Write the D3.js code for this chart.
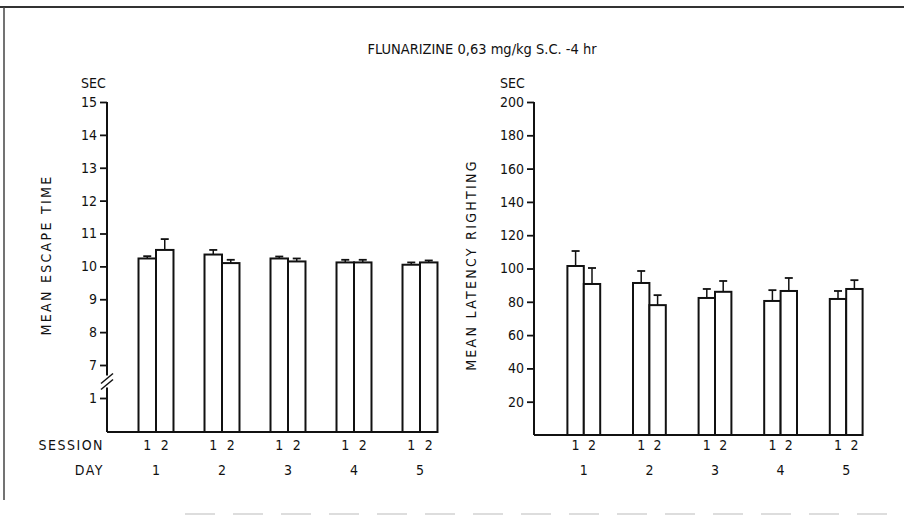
<!DOCTYPE html>
<html>
<head>
<meta charset="utf-8">
<script src="https://cdn.jsdelivr.net/npm/d3@7"></script>
<style>
  body { margin: 0; background: #fff; }
  svg text { font-family: "DejaVu Sans Condensed", "DejaVu Sans", sans-serif; fill: #111; }
</style>
</head>
<body>
<div id="chart"></div>
<script>
var width = 904, height = 517;

// days and sessions
var days = ["1", "2", "3", "4", "5"];
var sessions = ["1", "2"];

// mean escape time (sec), session 1 / session 2, with SEM
var escapeS1 = [10.24, 10.36, 10.24, 10.12, 10.05];
var escapeS2 = [10.5, 10.1, 10.15, 10.12, 10.12];
var escapeErr1 = [0.07, 0.14, 0.06, 0.08, 0.07];
var escapeErr2 = [0.33, 0.1, 0.09, 0.08, 0.06];
var escapeTicks = [1, 7, 8, 9, 10, 11, 12, 13, 14, 15];

// mean latency righting (sec)
var latencyS1 = [101.5, 91.3, 82.3, 80.5, 81.7];
var latencyS2 = [90.7, 78, 86, 86.5, 87.7];
var latencyErr1 = [9, 7.2, 5.4, 6.5, 4.8];
var latencyErr2 = [9.6, 6, 6.5, 7.8, 5.3];
var latencyTicks = [20, 40, 60, 80, 100, 120, 140, 160, 180, 200];

var svg = d3.select("#chart").append("svg")
    .attr("width", width)
    .attr("height", height);

//page frame (scan border)
svg.append("line").attr("x1", 0).attr("x2", width).attr("y1", 7).attr("y2", 7)
  .style("stroke", "#333").style("stroke-width", 2);
svg.append("line").attr("x1", 4).attr("x2", 4).attr("y1", 7).attr("y2", 500)
  .style("stroke", "#444").style("stroke-width", 1.5);
svg.append("line").attr("x1", 185).attr("x2", width).attr("y1", 514).attr("y2", 514)
  .style("stroke", "#bbb").style("stroke-width", 1).style("stroke-dasharray", "30,18");

//title
svg.append("text").attr("x", 482).attr("y", 54).attr("text-anchor", "middle")
  .style("font-size", "14.5px").text("FLUNARIZINE 0,63 mg/kg S.C. -4 hr");

function drawPanel(opt) {
  var g = svg.append("g");
  var y = opt.y;

  var x = d3.scaleBand().domain(days).range(opt.xRange)
    .paddingInner(opt.pad).paddingOuter(opt.pad / 2);
  var xs = d3.scaleBand().domain(sessions).range([0, x.bandwidth()]);

  var rows = days.map(function(d, i) {
    return [
      {day: d, s: "1", v: opt.s1[i], e: opt.e1[i]},
      {day: d, s: "2", v: opt.s2[i], e: opt.e2[i]}
    ];
  });
  var bars = d3.merge(rows);

  //y axis
  var axis = d3.axisLeft(y).tickValues(opt.ticks).tickSize(7).tickPadding(3)
    .tickFormat(d3.format("d"));
  var ax = g.append("g").attr("transform", "translate(" + opt.x0 + ",0)").call(axis);
  ax.select(".domain").remove();
  ax.selectAll(".tick line").style("stroke", "#111").style("stroke-width", 1.8);
  ax.selectAll(".tick text").style("font-size", "14px").style("fill", "#111");

  if (opt.breakAt) {
    var yb = y(opt.breakAt);
    g.append("line").attr("x1", opt.x0).attr("x2", opt.x0).attr("y1", y(opt.ticks[opt.ticks.length - 1])).attr("y2", yb - 6)
      .style("stroke", "#111").style("stroke-width", 2);
    g.append("line").attr("x1", opt.x0).attr("x2", opt.x0).attr("y1", yb + 6).attr("y2", y(0))
      .style("stroke", "#111").style("stroke-width", 2);
    [-3, 3].forEach(function(o) {
      g.append("line").attr("x1", opt.x0 - 6).attr("x2", opt.x0 + 6)
        .attr("y1", yb + o + 5).attr("y2", yb + o - 5)
        .style("stroke", "#111").style("stroke-width", 1.5);
    });
  } else {
    g.append("line").attr("x1", opt.x0).attr("x2", opt.x0).attr("y1", y(opt.ticks[opt.ticks.length - 1])).attr("y2", y(0))
      .style("stroke", "#111").style("stroke-width", 2);
  }

  //baseline
  g.append("line").attr("x1", opt.x0).attr("x2", x(days[days.length - 1]) + x.bandwidth())
    .attr("y1", y(0)).attr("y2", y(0))
    .style("stroke", "#111").style("stroke-width", 2);

  //error bars
  g.selectAll(".err").data(bars).enter().append("line")
    .attr("x1", function(d) { return x(d.day) + xs(d.s) + xs.bandwidth() / 2; })
    .attr("x2", function(d) { return x(d.day) + xs(d.s) + xs.bandwidth() / 2; })
    .attr("y1", function(d) { return y(d.v); })
    .attr("y2", function(d) { return y(d.v + d.e); })
    .style("stroke", "#111").style("stroke-width", 1.5);
  g.selectAll(".cap").data(bars).enter().append("line")
    .attr("x1", function(d) { return x(d.day) + xs(d.s) + xs.bandwidth() / 2 - 4; })
    .attr("x2", function(d) { return x(d.day) + xs(d.s) + xs.bandwidth() / 2 + 4; })
    .attr("y1", function(d) { return y(d.v + d.e); })
    .attr("y2", function(d) { return y(d.v + d.e); })
    .style("stroke", "#111").style("stroke-width", 1.8);

  //bars
  g.selectAll(".bar").data(bars).enter().append("rect")
    .attr("x", function(d) { return x(d.day) + xs(d.s); })
    .attr("y", function(d) { return y(d.v); })
    .attr("width", xs.bandwidth())
    .attr("height", function(d) { return y(0) - y(d.v); })
    .style("fill", "#fff").style("stroke", "#111").style("stroke-width", 2);

  //session and day labels
  g.selectAll(".ses").data(bars).enter().append("text")
    .attr("x", function(d) { return x(d.day) + xs(d.s) + xs.bandwidth() / 2; })
    .attr("y", 450).attr("text-anchor", "middle")
    .style("font-size", "14px").text(function(d) { return d.s; });
  g.selectAll(".day").data(days).enter().append("text")
    .attr("x", function(d) { return x(d) + x.bandwidth() / 2; })
    .attr("y", 475).attr("text-anchor", "middle")
    .style("font-size", "14px").text(function(d) { return d; });

  //unit and axis title
  g.append("text").attr("x", opt.secX).attr("y", 88).style("font-size", "14px").text("SEC");
  g.append("text")
    .attr("transform", "translate(" + opt.titleX + "," + opt.titleY + ") rotate(-90)")
    .attr("text-anchor", "middle").style("font-size", "14px").style("letter-spacing", "2.3px")
    .text(opt.title);
}

drawPanel({
  y: d3.scaleLinear().domain([0, 1, 7, 15]).range([432, 398, 365, 102]),
  x0: 107, xRange: [123, 453], pad: 0.47,
  s1: escapeS1, s2: escapeS2, e1: escapeErr1, e2: escapeErr2,
  ticks: escapeTicks, breakAt: 4,
  secX: 81, titleX: 51, titleY: 255, title: "MEAN ESCAPE TIME"
});

drawPanel({
  y: d3.scaleLinear().domain([0, 200]).range([435, 102]),
  x0: 534, xRange: [551, 879], pad: 0.5,
  s1: latencyS1, s2: latencyS2, e1: latencyErr1, e2: latencyErr2,
  ticks: latencyTicks,
  secX: 500, titleX: 476, titleY: 265, title: "MEAN LATENCY RIGHTING"
});

//row labels
svg.append("text").attr("x", 104).attr("y", 450).attr("text-anchor", "end")
  .style("font-size", "14px").style("letter-spacing", "1.5px").text("SESSION");
svg.append("text").attr("x", 104).attr("y", 475).attr("text-anchor", "end")
  .style("font-size", "14px").style("letter-spacing", "1.5px").text("DAY");
</script>
</body>
</html>
